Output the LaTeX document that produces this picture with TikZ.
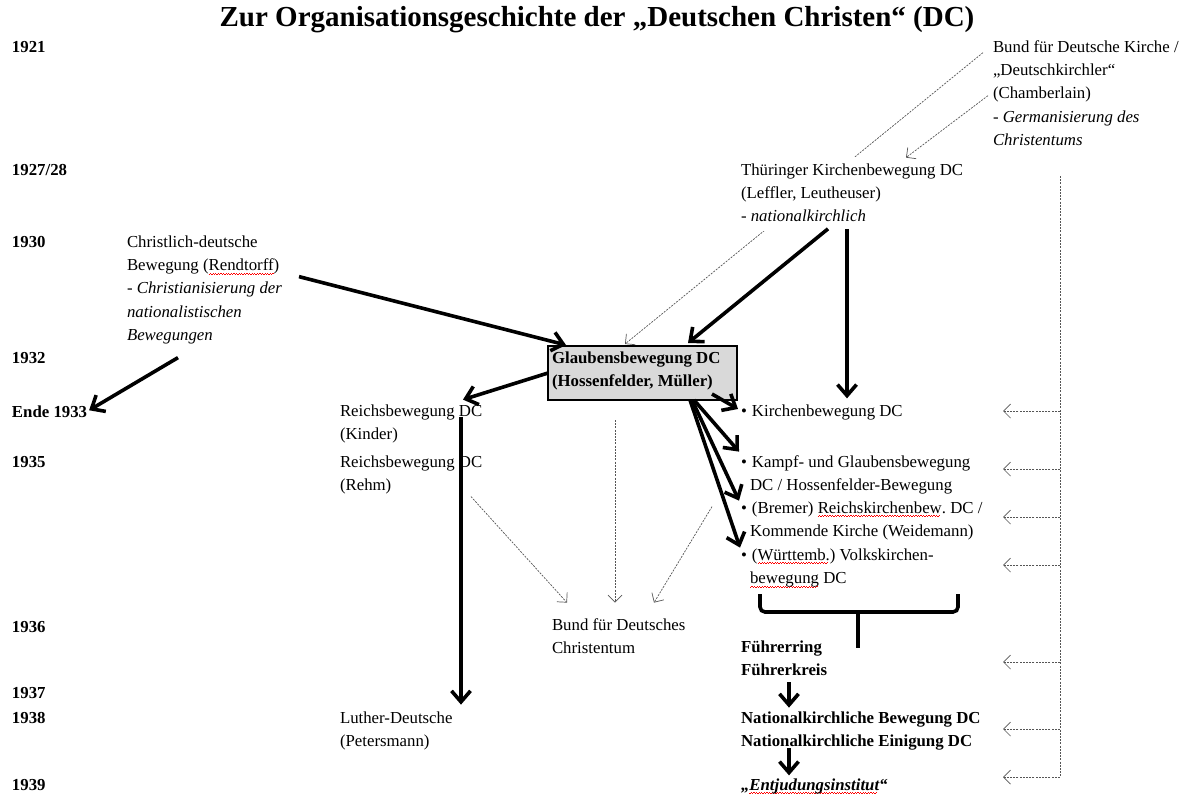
\documentclass[tikz,border=0pt]{standalone}
\usepackage{fontspec}
\setmainfont{Liberation Serif}
\usetikzlibrary{arrows.meta}
\definecolor{boxgray}{HTML}{D9D9D9}
\definecolor{dashgray}{HTML}{555555}
\frenchspacing
\newcommand\ml[1]{\begin{tabular}[t]{@{}l@{}}#1\end{tabular}}
\newcommand\spell[1]{\setbox0\hbox{#1}\rlap{\color{red}\hbox to \wd0{\leaders\hbox{\raisebox{-3.8pt}{\rule{1.3pt}{0.7pt}}\raisebox{-2.8pt}{\rule{1.3pt}{0.7pt}}}\hfill}}\box0\relax}
\newcommand\bul{\makebox[11pt][l]{•}}
\newcommand\ind{\hspace*{9pt}}
\newcommand\bodyfont{\fontsize{16.8}{23.4}\selectfont}
\begin{document}
\begin{tikzpicture}[x=1pt,y=-1pt,
  every node/.style={inner sep=0pt, outer sep=0pt, anchor=base west, font=\bodyfont},
  yr/.style={font=\bodyfont\bfseries},
  heavy/.style={line width=3.6pt, -{Straight Barb[length=11pt,width=19pt]}},
  light/.style={draw=dashgray, line width=0.7pt, dash pattern=on 2pt off 1.2pt, -{Straight Barb[length=7pt,width=14pt]}},
  lightline/.style={draw=dashgray, line width=0.7pt, dash pattern=on 2pt off 1.2pt}]
\useasboundingbox (0,0) rectangle (1190,796);

% title
\node[anchor=base, font=\bfseries\fontsize{29}{34}\selectfont] (title) at (597,26) {Zur Organisationsgeschichte der „Deutschen Christen“ (DC)};

% years
\node[yr] (y1921) at (12,52) {1921};
\node[yr] (y1927) at (12,175) {1927/28};
\node[yr] (y1930) at (12,247) {1930};
\node[yr] (y1932) at (12,363) {1932};
\node[yr] (y1933) at (12,417) {Ende 1933};
\node[yr] (y1935) at (12,467) {1935};
\node[yr] (y1936) at (12,632) {1936};
\node[yr] (y1937) at (12,698) {1937};
\node[yr] (y1938) at (12,723) {1938};
\node[yr] (y1939) at (12,790) {1939};

% nodes
\node (christ) at (127,247) {\ml{Christlich-deutsche\\Bewegung (\spell{Rendtorff})\\- \textit{Christianisierung der}\\\textit{nationalistischen}\\\textit{Bewegungen}}};
\node (bundDK) at (993,52) {\ml{Bund für Deutsche Kirche /\\„Deutschkirchler“\\(Chamberlain)\\- \textit{Germanisierung des}\\\textit{Christentums}}};
\node[draw, line width=2pt, fill=boxgray, anchor=north west, minimum width=189pt, minimum height=54pt, font=\bodyfont\bfseries] (glaub) at (548,346) {\raisebox{3pt}[16.4pt][30.4pt]{\makebox[181pt][l]{\ml{Glaubensbewegung DC\\(Hossenfelder, Müller)}}}};
\node (reichK) at (340,416) {\ml{Reichsbewegung DC\\(Kinder)}};
\node (reichR) at (340,467) {\ml{Reichsbewegung DC\\(Rehm)}};
\node (luther) at (340,723) {\ml{Luther-Deutsche\\(Petersmann)}};
\node (bundDC) at (552,630) {\ml{Bund für Deutsches\\Christentum}};
\node (kirch) at (741,416) {\bul Kirchenbewegung DC};
\node (kampf) at (741,467) {\ml{\bul Kampf- und Glaubensbewegung\\\ind DC / Hossenfelder-Bewegung}};
\node (bremer) at (741,513) {\ml{\bul (Bremer) \spell{Reichskirchenbew}. DC /\\\ind Kommende Kirche (Weidemann)}};
\node (wuert) at (741,560) {\ml{\bul (\spell{Württemb.}) Volkskirchen-\\\ind \spell{bewegung} DC}};
\node[font=\bodyfont\bfseries] (fuehrer) at (741,652) {\ml{Führerring\\Führerkreis}};
\node[font=\bodyfont\bfseries] (natk) at (741,723) {\ml{Nationalkirchliche Bewegung DC\\Nationalkirchliche Einigung DC}};
\node[font=\bodyfont\bfseries\itshape] (entj) at (741,790) {„\spell{Entjudungsinstitut}“};

% thin line from Bund to Glaubensbewegung (partly hidden by Thueringer text)
\draw[light] ([shift={(-10,17)}]bundDK.north west) -- ([shift={(77,-2)}]glaub.north west);
\node[fill=white, inner sep=2pt] (thur) at (739,175) {\ml{Thüringer Kirchenbewegung DC\\(Leffler, Leutheuser)\\- \textit{nationalkirchlich}}};
\draw[light] ([shift={(-5,60)}]bundDK.north west) -- ([shift={(167,1)}]thur.north west);

% heavy arrows
\draw[heavy] ([shift={(172,46)}]christ.north west) -- ([shift={(18,-1)}]glaub.north west);
\draw[heavy] ([shift={(51,127)}]christ.north west) -- ([shift={(2,-1)}]y1933.east);
\draw[heavy] ([shift={(89,-2)}]thur.south west) -- ([shift={(140,-3)}]glaub.north west);
\draw[heavy] ([shift={(108,-2)}]thur.south west) -- ([shift={(106,-6)}]kirch.north west);
\draw[heavy] (glaub.west) -- ([shift={(123,0)}]reichK.north west);
\draw[heavy] ([shift={(121,17)}]reichK.north west) -- ([shift={(121,-2)}]luther.north west);
\draw[heavy] ([shift={(-25,-6)}]glaub.south east) -- ([shift={(-3,-3)}]kirch.west);
\draw[heavy] ([shift={(-43,0)}]glaub.south east) -- ([shift={(-2,1)}]kampf.north west);
\draw[heavy] ([shift={(-45,0)}]glaub.south east) -- ([shift={(-2,4)}]bremer.north west);
\draw[heavy] ([shift={(-47,0)}]glaub.south east) -- ([shift={(-1,4)}]wuert.north west);
\draw[heavy] ([shift={(48,0)}]fuehrer.south west) -- ([shift={(48,1)}]natk.north west);
\draw[heavy] ([shift={(48,-5)}]natk.south west) -- ([shift={(48,-3)}]entj.north west);

% bracket
\draw[line width=3.6pt, rounded corners=5pt] (760,594) |- (958,612) -- (958,594);
\draw[line width=3.6pt] (858,612) -- (858,648);

% thin arrows to Bund fuer Deutsches Christentum
\draw[light] ([shift={(131,46)}]reichR.north west) -- ([shift={(15,-11)}]bundDC.north west);
\draw[light] ([shift={(67,20)}]glaub.south west) -- ([shift={(63,-11)}]bundDC.north west);
\draw[light] ([shift={(-29,10)}]bremer.north west) -- ([shift={(102,-11)}]bundDC.north west);

% right dashed bar
\coordinate (vtop) at (1060,176);
\coordinate (vbot) at (1060,777);
\draw[lightline] (vtop) -- (vbot);
\foreach \yy/\nm in {411/a,469/b,517/c,565/d,662/e,729/f,777/g} {
  \coordinate (r\nm) at (1060,\yy);
  \coordinate (t\nm) at (1003,\yy);
  \draw[light] (r\nm) -- (t\nm);
}
\end{tikzpicture}
\end{document}
